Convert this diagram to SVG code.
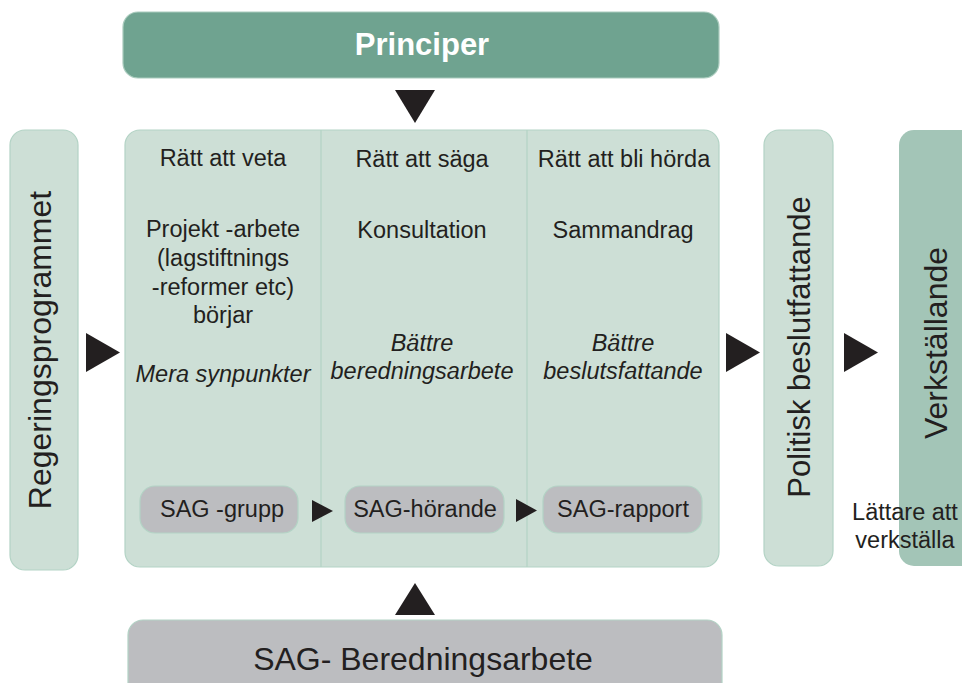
<svg xmlns="http://www.w3.org/2000/svg" width="962" height="683" viewBox="0 0 962 683">
<defs>
<style>
.t{font-family:"Liberation Sans",Arial,Helvetica,sans-serif;fill:#231f20;font-size:23.5px;text-anchor:middle}
.i{font-style:italic}
.big{font-size:32px}
.light{fill:#cddfd6;stroke:#b3d3c5;stroke-width:1.2}
.sag{fill:#bcbdc0;stroke:#b3d3c5;stroke-width:1.2}
.tri{fill:#231f20}
</style>
</defs>
<rect width="962" height="683" fill="#ffffff"/>

<g id="principer">
<rect x="123" y="12" width="596" height="66" rx="15" fill="#6fa390" stroke="#a9cbbd" stroke-width="1.2"/>
<text x="422" y="55" class="t" style="fill:#ffffff;font-weight:bold;font-size:31px">Principer</text>
</g>

<g id="regeringsprogrammet">
<rect x="10" y="130" width="68" height="440" rx="15" class="light"/>
<text class="t big" transform="translate(51,350) rotate(-90)">Regeringsprogrammet</text>
</g>

<g id="main">
<rect x="125" y="130" width="594" height="437" rx="15" class="light"/>
<line x1="321" y1="130" x2="321" y2="567" stroke="#b3d3c5" stroke-width="1.2"/>
<line x1="527" y1="130" x2="527" y2="567" stroke="#b3d3c5" stroke-width="1.2"/>
</g>

<g id="col1">
<text x="223" y="166" class="t">Rätt att veta</text>
<text x="223" y="237" class="t">Projekt -arbete</text>
<text x="223" y="266" class="t">(lagstiftnings</text>
<text x="223" y="295" class="t">-reformer etc)</text>
<text x="223" y="323" class="t">börjar</text>
<text x="223" y="382" class="t i">Mera synpunkter</text>
</g>

<g id="col2">
<text x="422" y="167" class="t">Rätt att säga</text>
<text x="422" y="238" class="t">Konsultation</text>
<text x="422" y="351" class="t i">Bättre</text>
<text x="422" y="379" class="t i">beredningsarbete</text>
</g>

<g id="col3">
<text x="624" y="167" class="t">Rätt att bli hörda</text>
<text x="623" y="238" class="t">Sammandrag</text>
<text x="623" y="351" class="t i">Bättre</text>
<text x="623" y="379" class="t i">beslutsfattande</text>
</g>

<g id="sag-grupp">
<rect x="140" y="486" width="158" height="47" rx="15" class="sag"/>
<text x="222" y="517" class="t">SAG -grupp</text>
</g>
<g id="sag-horande">
<rect x="345" y="486" width="159" height="47" rx="15" class="sag"/>
<text x="425" y="517" class="t">SAG-hörande</text>
</g>
<g id="sag-rapport">
<rect x="543" y="486" width="159" height="47" rx="15" class="sag"/>
<text x="623" y="517" class="t">SAG-rapport</text>
</g>

<g id="politisk">
<rect x="764" y="130" width="69" height="436" rx="15" class="light"/>
<text class="t" style="font-size:31px" transform="translate(810,347) rotate(-90)">Politisk beslutfattande</text>
</g>

<g id="verkstallande">
<rect x="899" y="130" width="80" height="436" rx="15" fill="#a3c5b7"/>
<text class="t big" transform="translate(947,343) rotate(-90)">Verkställande</text>
<text x="905" y="520" class="t">Lättare att</text>
<text x="905" y="548" class="t">verkställa</text>
</g>

<g id="beredning">
<rect x="128" y="620" width="594" height="90" rx="15" class="sag"/>
<text x="423" y="670" class="t big">SAG- Beredningsarbete</text>
</g>

<g id="connectors">
<polygon class="tri" points="395,90 435,90 415,123"/>
<polygon class="tri" points="395,615 435,615 415,583"/>
<polygon class="tri" points="86,333 86,372 120,352.5"/>
<polygon class="tri" points="726,333 726,372 760,352.5"/>
<polygon class="tri" points="844,333 844,372 878,352.5"/>
<polygon class="tri" points="312,500 312,522 333,511"/>
<polygon class="tri" points="516,499 516,522 537,510.5"/>
</g>
</svg>
